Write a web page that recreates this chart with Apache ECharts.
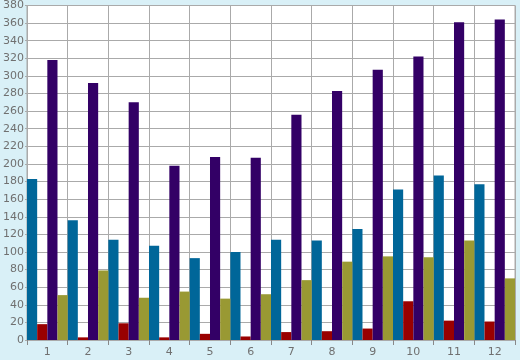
<!DOCTYPE html>
<html><head><meta charset="utf-8">
<style>html,body{margin:0;padding:0;background:#d9f0f7;}#c{width:520px;height:360px;}</style>
<script src="https://cdn.jsdelivr.net/npm/echarts@6/dist/echarts.min.js"></script>
</head><body><div id="c"></div>
<script>
var categories = ['1','2','3','4','5','6','7','8','9','10','11','12'];
var seriesBlue   = [183, 136, 114, 107, 93, 100, 114, 113, 126, 171, 187, 177];
var seriesRed    = [18, 3, 19, 3, 7, 4, 9, 10, 13, 44, 22, 21];
var seriesPurple = [318, 292, 270, 198, 208, 207, 256, 283, 307, 322, 361, 364];
var seriesOlive  = [51, 79, 48, 55, 47, 52, 68, 89, 95, 94, 113, 70];
var yMin = 0, yMax = 380, yStep = 20;

var chart = echarts.init(document.getElementById('c'), null, {renderer:'canvas'});
function bar(name, data, color){
  return {name:name, type:'bar', data:data, barGap:'0%', barCategoryGap:'0%',
    itemStyle:{color:color}, z:3};
}
chart.setOption({
  backgroundColor:'#d9f0f7',
  animation:false,
  grid:{left:26, right:5, top:5, bottom:20, show:true, backgroundColor:'#ffffff', borderColor:'#aaaaaa', borderWidth:1},
  xAxis:{type:'category', data:categories,
    axisLine:{show:true, lineStyle:{color:'#aaaaaa'}},
    axisTick:{show:true, length:5, lineStyle:{color:'#888888'}},
    axisLabel:{color:'#707070', fontFamily:'DejaVu Sans', fontSize:11, margin:7},
    splitLine:{show:true, lineStyle:{color:'#aaaaaa', width:1}}
  },
  yAxis:{type:'value', min:yMin, max:yMax, interval:yStep,
    axisLine:{show:true, lineStyle:{color:'#aaaaaa'}},
    axisTick:{show:true, length:2, lineStyle:{color:'#aaaaaa'}},
    axisLabel:{color:'#707070', fontFamily:'DejaVu Sans', fontSize:11, margin:3},
    splitLine:{show:true, lineStyle:{color:'#aaaaaa', width:1}}
  },
  series:[
    bar('A', seriesBlue, '#006699'),
    bar('B', seriesRed, '#990000'),
    bar('C', seriesPurple, '#330066'),
    bar('D', seriesOlive, '#999933')
  ]
});
</script></body></html>
